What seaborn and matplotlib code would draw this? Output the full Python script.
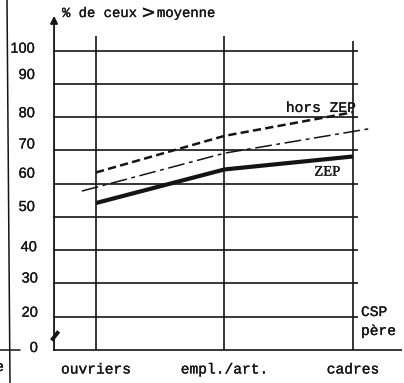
import numpy as np
import pandas as pd
import matplotlib
matplotlib.use("Agg")
import matplotlib.pyplot as plt
import matplotlib.transforms as mtransforms
import matplotlib.patheffects as pe
from matplotlib.lines import Line2D
import seaborn as sns

# ---- data -------------------------------------------------------------
categories = ["ouvriers", "empl./art.", "cadres"]
zep = [54.2, 64.3, 68.2]            # ZEP pupils
hors_zep = [63.4, 74.4, 81.5]       # pupils outside ZEP
moyenne_x = [-0.11, 1.0, 2.12]      # overall trend line (category units)
moyenne_y = [57.8, 69.2, 76.5]
tick_values = [10, 20, 30, 40, 50, 60, 70, 80, 90, 100]   # 0 sits below an axis break
tick_labels = ["0", "20", "30", "40", "50", "60", "70", "80", "90", "100"]
title_left, title_right = "% de ceux", "moyenne"

# ---- layout -----------------------------------------------------------
W, H = 404, 383
sns.set_style("white")
plt.rcParams["font.family"] = ["Liberation Mono", "DejaVu Sans"]
INK = "#141414"
INKY = [pe.withStroke(linewidth=0.2, foreground=INK)]   # slightly heavier typed strokes

fig = plt.figure(figsize=(W / 100, H / 100), dpi=100)
fig.patch.set_facecolor("white")
ax = fig.add_axes([53 / W, 33 / H, 351 / W, 350 / H])
ax.set_facecolor("none")
ax.set_xlim(-0.3346, 2.397)
ax.set_ylim(10, 115.26)
for s in ax.spines.values():
    s.set_visible(False)
ax.set_yticks([])
pos = np.arange(len(categories))
ax.set_xticks(pos)
ax.set_xticklabels(categories, fontsize=10.5, family="Liberation Mono", color=INK)
for t in ax.get_xticklabels():
    t.set_path_effects(INKY)
ax.tick_params(axis="x", length=0, pad=9)

grid_kw = dict(color=INK, lw=1.2, clip_on=False, zorder=1)
# horizontal grid
for v in tick_values[1:]:
    ax.hlines(v, -0.3346, 2.04, **grid_kw)
ax.hlines(tick_values[0], -0.3346, 2.38, **grid_kw)
# vertical grid at each category
ax.vlines(pos[:2], 10, 104.5, **grid_kw)
ax.vlines(pos[2:], 10, 103.0, **grid_kw)

# y axis with arrow
ax.annotate("", xy=(0.003, 110.5), xytext=(0.003, 10),
            xycoords=("axes fraction", "data"), textcoords=("axes fraction", "data"),
            arrowprops=dict(arrowstyle="-|>", lw=1.3, color=INK, mutation_scale=11,
                            shrinkA=0, shrinkB=0), zorder=3)
# axis break mark
ax.plot([-0.004, 0.016], [12.9, 15.6],
        transform=mtransforms.blended_transform_factory(ax.transAxes, ax.transData),
        color=INK, lw=2.8, solid_capstyle="butt", clip_on=False, zorder=4)

# tick labels (typed by hand, slightly irregular)
nudges = [2, 4, 5, 3, 10, 10, 6, 4, 9, 2]
rights = [38, 38, 38, 37, 35, 35, 35, 35, 35, 35]
for v, lab, dy, xr in zip(tick_values, tick_labels, nudges, rights):
    tr = mtransforms.blended_transform_factory(fig.transFigure, ax.transData) + \
        mtransforms.ScaledTranslation(0, dy / 100, fig.dpi_scale_trans)
    fig.text(xr / W, v, lab, transform=tr, ha="right", va="center",
             fontsize=10.5, family="Liberation Sans", color=INK, path_effects=INKY)

# ---- series -----------------------------------------------------------
df = pd.DataFrame({"pos": pos, "zep": zep, "hors": hors_zep})
sns.lineplot(data=df, x="pos", y="zep", ax=ax, color=INK, lw=3.0,
             solid_capstyle="butt", zorder=5)
sns.lineplot(data=df, x="pos", y="hors", ax=ax, color=INK, lw=1.8,
             dashes=False, zorder=5).lines[-1].set_dashes((3.3, 1.7))
trend = pd.DataFrame({"x": moyenne_x, "y": moyenne_y})
sns.lineplot(data=trend, x="x", y="y", ax=ax, color=INK, lw=1.1, zorder=5,
             sort=False).lines[-1].set_dashes((11, 3, 2.5, 3))
ax.set_xlabel("")
ax.set_ylabel("")

# series labels
ax.text(1.75, 82.8, "hors ZEP", fontsize=10.5, family="Liberation Mono",
        ha="center", va="center", color=INK, zorder=6, path_effects=INKY)
ax.text(1.80, 63.5, "ZEP", fontsize=10.5, family="Liberation Serif",
        ha="center", va="center", color=INK, zorder=6, path_effects=INKY)
fig.text(361 / W, 1 - 312 / H, "CSP", fontsize=10.5, family="Liberation Mono",
         ha="left", va="center", color=INK, path_effects=INKY)
fig.text(361 / W, 1 - 331 / H, "père", fontsize=10.5, family="Liberation Mono",
         ha="left", va="center", color=INK, path_effects=INKY)

# title
fig.text(62 / W, 1 - 13 / H, title_left, fontsize=10, family="Liberation Mono",
         ha="left", va="center", color=INK, path_effects=INKY)
fig.text(148 / W, 1 - 14 / H, ">", fontsize=13, family="DejaVu Sans", weight="bold",
         ha="center", va="center", color=INK)
fig.text(157 / W, 1 - 13 / H, title_right, fontsize=10, family="Liberation Mono",
         ha="left", va="center", color=INK, path_effects=INKY)

# frame line on the left and edge of the neighbouring panel
fig.add_artist(Line2D([7 / W, 10 / W], [1, 0], color=INK, lw=1.1))
fig.add_artist(Line2D([0, 20 / W], [1 - 350 / H, 1 - 350 / H], color=INK, lw=1.1))
fig.text(4 / W, 1 - 367 / H, "e", fontsize=10.5, family="Liberation Mono",
         ha="right", va="center", color=INK, path_effects=INKY)

fig.savefig("out.png", dpi=100, facecolor="white")
